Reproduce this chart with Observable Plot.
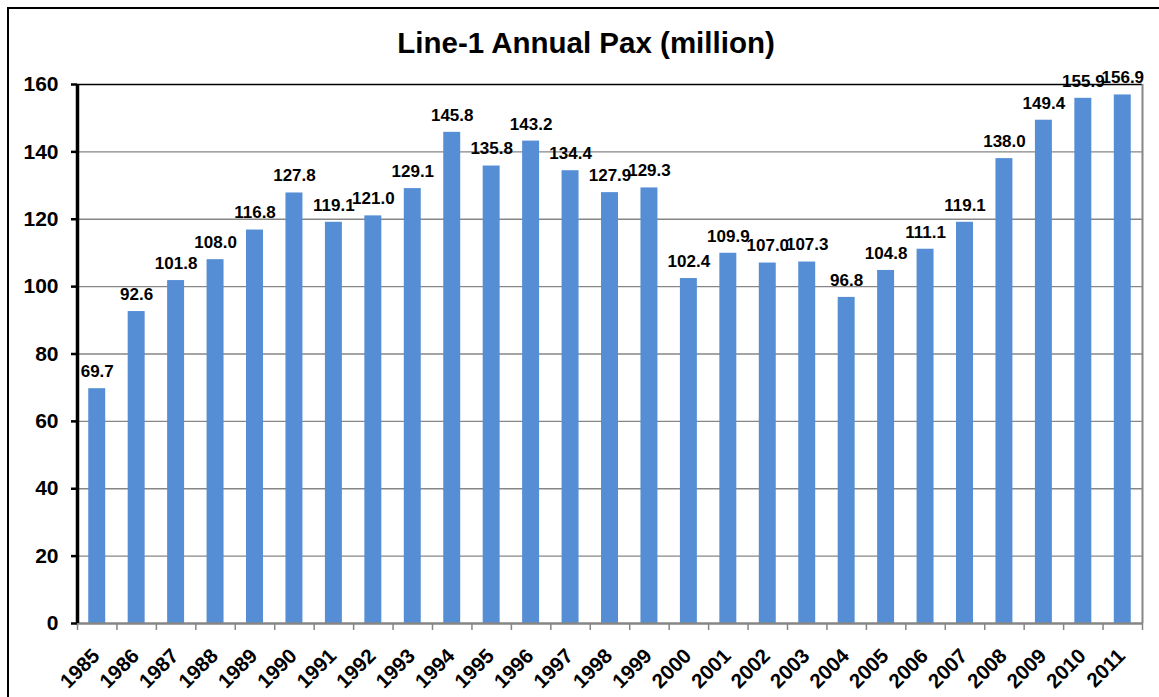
<!DOCTYPE html>
<html>
<head>
<meta charset="utf-8">
<script src="https://cdn.jsdelivr.net/npm/d3@7"></script>
<script src="https://cdn.jsdelivr.net/npm/@observablehq/plot@0.6"></script>
<style>
  html, body { margin: 0; padding: 0; background: #fff; }
  #wrap { position: relative; width: 1159px; height: 697px; overflow: hidden; font-family: "Liberation Sans", Arial, sans-serif; }
  #frame { position: absolute; left: 7px; top: 7px; width: 1200px; height: 800px; border-top: 2px solid #000; border-left: 2px solid #000; box-sizing: border-box; }
  #title { position: relative; width: 1159px; height: 60px; box-sizing: border-box; padding-top: 28px; padding-left: 13px; text-align: center; font-size: 29.5px; line-height: 29px; font-weight: bold; color: #000; }
  #chart { position: relative; }
</style>
</head>
<body>
<div id="wrap">
  <div id="frame"></div>
  <div id="title">Line-1 Annual Pax (million)</div>
  <div id="chart"></div>
</div>
<script>
// Annual ridership of Line-1, millions of passengers
const years = ["1985","1986","1987","1988","1989","1990","1991","1992","1993","1994",
  "1995","1996","1997","1998","1999","2000","2001","2002","2003","2004",
  "2005","2006","2007","2008","2009","2010","2011"];
const pax = [69.7, 92.6, 101.8, 108.0, 116.8, 127.8, 119.1, 121.0, 129.1, 145.8,
  135.8, 143.2, 134.4, 127.9, 129.3, 102.4, 109.9, 107.0, 107.3, 96.8,
  104.8, 111.1, 119.1, 138.0, 149.4, 155.9, 156.9];
const yTicks = [0, 20, 40, 60, 80, 100, 120, 140, 160];

const data = years.map((year, i) => ({year, pax: pax[i]}));

const W = 1159, H = 637;
const mL = 77, mR = 17, mT = 24, mB = 74;
const step = (W - mL - mR) / years.length; // width of one category band
const font = "Liberation Sans, Arial, sans-serif";

const chart = Plot.plot({
  width: W,
  height: H,
  marginLeft: mL,
  marginRight: mR,
  marginTop: mT,
  marginBottom: mB,
  style: {fontFamily: font, background: "transparent", color: "#000", overflow: "visible"},
  x: {domain: years, paddingInner: 0.57, paddingOuter: 0.285, round: false, label: null, axis: null},
  y: {domain: [0, 160], label: null},
  marks: [
    Plot.gridY(yTicks.filter(d => d > 0 && d < 160), {stroke: "#868686", strokeOpacity: 1, strokeWidth: 1.3}),
    Plot.ruleY([160], {stroke: "#000", strokeWidth: 1.5}),
    // right edge of the plot area
    Plot.ruleX([years[years.length - 1]], {x: d => d, dx: step / 2, y1: 0, y2: 160, stroke: "#868686", strokeWidth: 2}),
    Plot.barY(data, {x: "year", y: "pax", fill: "#558ed5"}),
    // category boundary ticks under the baseline
    Plot.ruleX(years, {x: d => d, dx: -step / 2, y1: 0, y2: 0, insetBottom: -7, stroke: "#868686", strokeWidth: 1.5}),
    Plot.ruleX([years[years.length - 1]], {x: d => d, dx: step / 2, y1: 0, y2: 0, insetBottom: -7, stroke: "#868686", strokeWidth: 1.5}),
    Plot.ruleY([0], {stroke: "#868686", strokeWidth: 2.5}),
    // left axis line
    Plot.ruleX([years[0]], {x: d => d, dx: -step / 2, y1: 0, y2: 160, stroke: "#000", strokeWidth: 3.5}),
    Plot.axisY(yTicks, {ticks: yTicks, tickSize: 6, tickPadding: 13, fontSize: 21, fontWeight: "bold", stroke: "#000", strokeWidth: 2.5, label: null}),
    // slanted year labels under each bar
    Plot.text(years, {x: d => d, frameAnchor: "bottom", text: d => d, rotate: -45, textAnchor: "end", lineAnchor: "middle", dx: -1, dy: 29, fontSize: 20.5, fontWeight: "bold", fill: "#000"}),
    Plot.text(data, {x: "year", y: "pax", text: d => d.pax.toFixed(1), dy: -17, fontSize: 17, fontWeight: "bold", fill: "#000"})
  ]
});

document.getElementById("chart").appendChild(chart);
</script>
</body>
</html>
